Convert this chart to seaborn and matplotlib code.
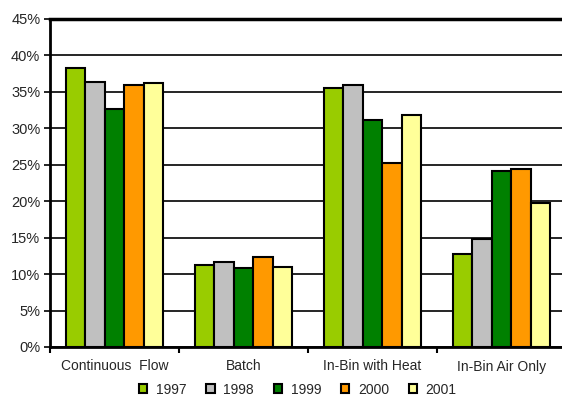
import numpy as np
import pandas as pd
import matplotlib
matplotlib.use('Agg')
import matplotlib.pyplot as plt
import seaborn as sns
from matplotlib.patches import Patch
from matplotlib.ticker import PercentFormatter

# 数据
categories = ['Continuous  Flow', 'Batch', 'In-Bin with Heat', 'In-Bin Air Only']
years = ['1997', '1998', '1999', '2000', '2001']
v1997 = [38.3, 11.3, 35.6, 12.8]
v1998 = [36.4, 11.6, 35.9, 14.8]
v1999 = [32.6, 10.8, 31.2, 24.1]
v2000 = [35.9, 12.4, 25.2, 24.4]
v2001 = [36.2, 11.0, 31.8, 19.7]
colors = ['#99CC00', '#C0C0C0', '#008000', '#FF9900', '#FFFF99']

rows = []
for y, vals in zip(years, [v1997, v1998, v1999, v2000, v2001]):
    for c, v in zip(categories, vals):
        rows.append({'method': c, 'year': y, 'pct': v})
df = pd.DataFrame(rows)

sns.set_style('white')
plt.rcParams['font.family'] = ['Liberation Sans', 'DejaVu Sans']

fig = plt.figure(figsize=(5.62, 3.96), dpi=100)
ax = fig.add_axes([50 / 562, 49 / 396, 516 / 562, 328 / 396])

sns.barplot(data=df, x='method', y='pct', hue='year', palette=colors,
            width=0.757, gap=0, edgecolor='black', linewidth=1.5,
            saturation=1, legend=False, ax=ax, zorder=3)

ax.set_ylim(0, 45)
ax.set_xlim(-0.5, 3.5)
ax.set_yticks(np.arange(0, 46, 5))
ax.yaxis.set_major_formatter(PercentFormatter(decimals=0))
ax.yaxis.grid(True, color='black', linewidth=1.2, zorder=0)
ax.set_axisbelow(True)
ax.set_xlabel('')
ax.set_ylabel('')

# 类别之间的刻度
ax.set_xticks([-0.5, 0.5, 1.5, 2.5], minor=True)
ax.tick_params(axis='x', which='major', length=0, pad=9, labelsize=10)
ax.tick_params(axis='x', which='minor', length=4, width=1.5, color='black', direction='out', bottom=True)
ax.tick_params(axis='y', length=4, width=1.2, color='black', direction='out', left=True, labelsize=10.5, pad=3)

for s in ['left', 'bottom']:
    ax.spines[s].set_color('black')
    ax.spines[s].set_linewidth(2)
ax.spines['top'].set_color('black')
ax.spines['top'].set_linewidth(2.5)
ax.spines['right'].set_visible(False)

handles = [Patch(facecolor=c, edgecolor='black', linewidth=1.5) for c in colors]
fig.legend(handles, years, loc='center', bbox_to_anchor=(0.53, 0.016), ncol=5,
           frameon=False, fontsize=10, handlelength=0.6, handleheight=0.6,
           handletextpad=0.6, columnspacing=1.45, borderpad=0.1)

fig.savefig('out.png', dpi=100)
